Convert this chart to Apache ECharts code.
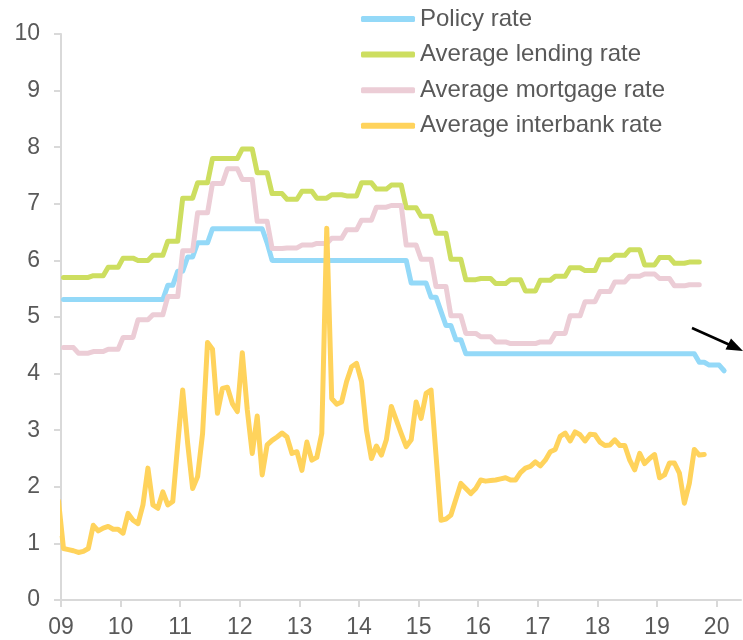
<!DOCTYPE html>
<html>
<head>
<meta charset="utf-8">
<script src="https://cdn.jsdelivr.net/npm/echarts@6/dist/echarts.min.js"></script>
<style>
html,body{margin:0;padding:0;background:#ffffff;}
#chart{width:743px;height:640px;}
</style>
</head>
<body>
<div id="chart"></div>
<script>
// ---- Data (monthly index 0 = Jan 2009) ----
const yearLabels = ['09','10','11','12','13','14','15','16','17','18','19','20'];
const seriesNames = ['Policy rate','Average lending rate','Average mortgage rate','Average interbank rate'];

// Policy rate, monthly, Jan 2009 .. Feb 2020
const policyRate = [
  5.31,5.31,5.31,5.31,5.31,5.31,5.31,5.31,5.31,5.31,5.31,5.31,
  5.31,5.31,5.31,5.31,5.31,5.31,5.31,5.31,5.31,5.56,5.56,5.81,
  5.81,6.06,6.06,6.31,6.31,6.31,6.56,6.56,6.56,6.56,6.56,6.56,
  6.56,6.56,6.56,6.56,6.56,6.31,6.00,6.00,6.00,6.00,6.00,6.00,
  6.00,6.00,6.00,6.00,6.00,6.00,6.00,6.00,6.00,6.00,6.00,6.00,
  6.00,6.00,6.00,6.00,6.00,6.00,6.00,6.00,6.00,6.00,5.60,5.60,
  5.60,5.60,5.35,5.35,5.10,4.85,4.85,4.60,4.60,4.35,4.35,4.35,
  4.35,4.35,4.35,4.35,4.35,4.35,4.35,4.35,4.35,4.35,4.35,4.35,
  4.35,4.35,4.35,4.35,4.35,4.35,4.35,4.35,4.35,4.35,4.35,4.35,
  4.35,4.35,4.35,4.35,4.35,4.35,4.35,4.35,4.35,4.35,4.35,4.35,
  4.35,4.35,4.35,4.35,4.35,4.35,4.35,4.35,4.20,4.20,4.15,4.15,
  4.15,4.05
];
const policyStart = 0;

// Average lending rate, quarterly, Q1 2009 .. Q3 2019
const lendingRateQ = [
  5.70,5.70,5.73,5.88,
  6.04,6.00,6.09,6.34,
  7.10,7.37,7.80,7.80,
  7.97,7.55,7.18,7.08,
  7.22,7.10,7.16,7.14,
  7.37,7.26,7.33,6.93,
  6.78,6.48,6.02,5.66,
  5.68,5.59,5.66,5.46,
  5.65,5.72,5.87,5.82,
  6.01,6.09,6.19,5.92,
  6.05,5.95,5.97
];

// Average mortgage rate, quarterly, Q1 2009 .. Q3 2019
const mortgageRateQ = [
  4.46,4.36,4.39,4.43,
  4.64,4.95,5.04,5.36,
  6.17,6.84,7.36,7.62,
  7.43,6.69,6.21,6.22,
  6.27,6.30,6.39,6.54,
  6.71,6.94,6.97,6.27,
  6.02,5.54,5.02,4.71,
  4.65,4.56,4.53,4.53,
  4.56,4.71,5.02,5.27,
  5.45,5.62,5.72,5.76,
  5.68,5.55,5.57
];

// Average interbank rate, monthly, Dec 2008 .. Oct 2019
const interbankRate = [
  1.75,
  0.91,0.89,0.87,0.84,0.86,0.91,1.32,1.22,1.27,1.30,1.25,1.25,
  1.18,1.53,1.41,1.35,1.68,2.33,1.68,1.62,1.91,1.68,1.74,2.75,
  3.71,2.77,1.97,2.18,2.94,4.55,4.43,3.30,3.74,3.76,3.47,3.33,
  4.37,3.36,2.59,3.25,2.21,2.74,2.82,2.88,2.95,2.88,2.59,2.62,
  2.29,2.79,2.47,2.52,2.94,6.57,3.56,3.46,3.50,3.86,4.12,4.18,
  3.86,3.00,2.50,2.72,2.56,2.83,3.42,3.18,2.94,2.71,2.83,3.50,
  3.21,3.65,3.71,2.56,1.41,1.43,1.50,1.78,2.06,1.97,1.88,1.97,
  2.12,2.10,2.11,2.12,2.14,2.16,2.12,2.12,2.25,2.33,2.36,2.44,
  2.37,2.47,2.62,2.66,2.89,2.95,2.81,2.97,2.92,2.81,2.93,2.92,
  2.79,2.73,2.74,2.83,2.73,2.73,2.47,2.30,2.59,2.41,2.50,2.57,
  2.16,2.21,2.42,2.42,2.24,1.71,2.06,2.66,2.56,2.57
];
const interbankStart = -1;

const seriesColors = ['#94d9f8','#cdde60','#eccdd6','#ffd35c'];

// ---- helpers: place each month at mid-month on a month-count axis ----
function monthlyPoints(values, startMonth) {
  return values.map((v, i) => [startMonth + i + 0.5, v]);
}
function quarterlyToMonthly(values) {
  const out = [];
  values.forEach(v => { out.push(v, v, v); });
  return out;
}

const yearTicks = yearLabels.map((_, i) => i * 12);

const chart = echarts.init(document.getElementById('chart'), null, {renderer: 'canvas'});
const font = "'Liberation Sans', Arial, sans-serif";
const axisColor = '#d9d9d9';
const textColor = '#595959';

function lineSeries(name, color, data) {
  return {
    name: name,
    type: 'line',
    data: data,
    showSymbol: false,
    symbol: 'none',
    smooth: false,
    clip: true,
    color: color,
    lineStyle: {width: 5, color: color, cap: 'round', join: 'round'},
    emphasis: {disabled: true},
    animation: false
  };
}

chart.setOption({
  animation: false,
  backgroundColor: '#ffffff',
  grid: {left: 61, right: 2, top: 34, bottom: 40, containLabel: false},
  legend: {
    orient: 'vertical',
    left: 361,
    top: 7,
    padding: 0,
    itemWidth: 54,
    itemHeight: 6,
    itemGap: 11.6,
    icon: 'roundRect',
    data: seriesNames,
    textStyle: {fontSize: 24, color: textColor, fontFamily: font, lineHeight: 24}
  },
  xAxis: {
    type: 'value',
    min: 0,
    max: 136.9,
    interval: 12,
    splitLine: {show: false},
    axisLine: {show: true, lineStyle: {color: axisColor, width: 2}},
    axisTick: {show: true, length: 7, customValues: yearTicks, lineStyle: {color: axisColor, width: 2}},
    axisLabel: {
      fontSize: 23, color: textColor, fontFamily: font, margin: 16,
      customValues: yearTicks,
      formatter: v => yearLabels[Math.round(v / 12)]
    }
  },
  yAxis: {
    type: 'value',
    min: 0,
    max: 10,
    interval: 1,
    splitLine: {show: false},
    axisLine: {show: true, lineStyle: {color: axisColor, width: 2}},
    axisTick: {show: true, length: 7, lineStyle: {color: axisColor, width: 2}},
    axisLabel: {fontSize: 23, color: textColor, fontFamily: font, margin: 21}
  },
  graphic: [
    // white mask hiding the part of the Dec-2008 segment that spills left of the axis
    {type: 'rect', z: 100, shape: {x: 50, y: 492, width: 10, height: 44}, style: {fill: '#ffffff'}},
    {type: 'line', z: 100, shape: {x1: 692, y1: 328, x2: 730, y2: 345}, style: {stroke: '#000', lineWidth: 2.5}},
    {type: 'polygon', z: 100, shape: {points: [[743, 351], [725.5, 349.5], [731, 338.5]]}, style: {fill: '#000'}}
  ],
  series: [
    lineSeries(seriesNames[0], seriesColors[0], monthlyPoints(policyRate, policyStart)),
    lineSeries(seriesNames[1], seriesColors[1], monthlyPoints(quarterlyToMonthly(lendingRateQ), 0)),
    lineSeries(seriesNames[2], seriesColors[2], monthlyPoints(quarterlyToMonthly(mortgageRateQ), 0)),
    lineSeries(seriesNames[3], seriesColors[3], monthlyPoints(interbankRate, interbankStart))
  ]
});
</script>
</body>
</html>
